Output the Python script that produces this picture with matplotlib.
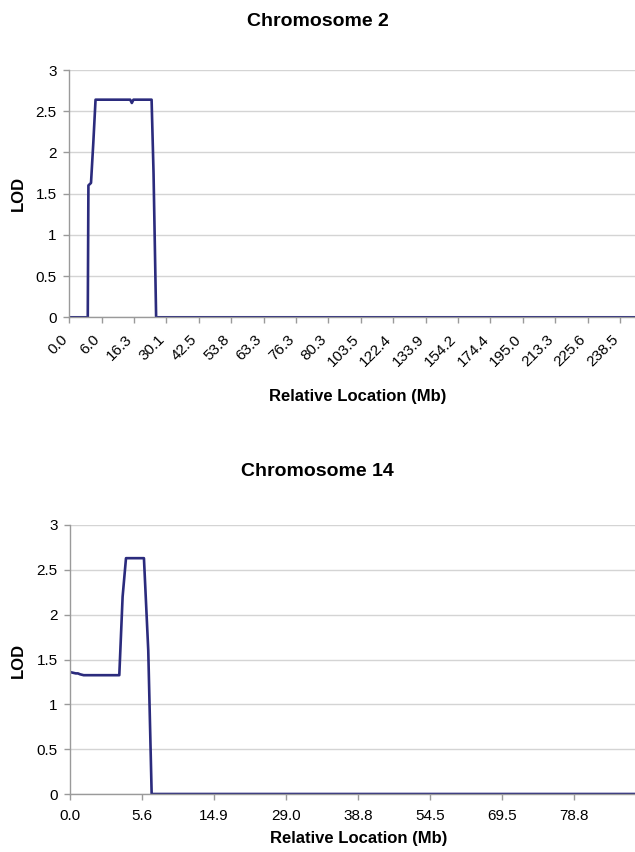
import numpy as np
import matplotlib.pyplot as plt
from matplotlib.transforms import ScaledTranslation

plt.rcParams['font.family'] = ['Liberation Sans', 'DejaVu Sans']

# x positions are in label-slot units along the category axis
chr2_labels = ["0.0", "6.0", "16.3", "30.1", "42.5", "53.8", "63.3", "76.3", "80.3",
               "103.5", "122.4", "133.9", "154.2", "174.4", "195.0", "213.3", "225.6", "238.5"]
chr2_x = [0.0, 0.57, 0.59, 0.67, 0.74, 0.81, 1.88, 1.93, 1.98, 2.54, 2.60, 2.68, 17.46]
chr2_lod = [0.0, 0.0, 1.60, 1.63, 2.11, 2.64, 2.64, 2.60, 2.64, 2.64, 1.75, 0.0, 0.0]

chr14_labels = ["0.0", "5.6", "14.9", "29.0", "38.8", "54.5", "69.5", "78.8"]
chr14_x = [0.0, 0.08, 0.11, 0.14, 0.19, 0.684, 0.73, 0.777, 1.026, 1.086, 1.133, 7.84]
chr14_lod = [1.36, 1.345, 1.345, 1.335, 1.325, 1.325, 2.20, 2.63, 2.63, 1.60, 0.0, 0.0]

line_col = "#2b2b7d"
grid_col = "#d4d4d4"
spine_col = "#9a9a9a"

fig = plt.figure(figsize=(6.35, 8.52), dpi=100)


def style_axes(ax, xmax):
    ax.set_xlim(0, xmax)
    ax.set_ylim(0, 3)
    ax.set_yticks(np.arange(0, 3.01, 0.5))
    ax.set_yticklabels(["0", "0.5", "1", "1.5", "2", "2.5", "3"])
    ax.yaxis.grid(True, color=grid_col, linewidth=1.0)
    ax.set_axisbelow(True)
    for s in ["top", "right"]:
        ax.spines[s].set_visible(False)
    for s in ["left", "bottom"]:
        ax.spines[s].set_color(spine_col)
        ax.spines[s].set_linewidth(1.0)
    ax.tick_params(axis="both", colors=spine_col, labelcolor="black", labelsize=11,
                   length=4, width=1.0, direction="out")
    ax.tick_params(axis="y", pad=5)


ax1 = fig.add_axes([69.3 / 635, 1 - 317.3 / 852, 565.7 / 635, 247.3 / 852])
ax1.plot(chr2_x, chr2_lod, color=line_col, linewidth=1.9, solid_joinstyle="round")
style_axes(ax1, 17.46)
ax1.set_xticks(range(len(chr2_labels)))
ax1.set_xticklabels(chr2_labels, rotation=45, ha="right", va="top", rotation_mode="anchor")
ax1.tick_params(axis="x", pad=6)
shift = ScaledTranslation(-9 / 100, -1 / 100, fig.dpi_scale_trans)
for lab in ax1.get_xticklabels():
    lab.set_transform(lab.get_transform() + shift)

ax2 = fig.add_axes([70 / 635, 1 - 794 / 852, 565 / 635, 269 / 852])
ax2.plot(chr14_x, chr14_lod, color=line_col, linewidth=1.9, solid_joinstyle="round")
style_axes(ax2, 7.84)
ax2.set_xticks(range(len(chr14_labels)))
ax2.set_xticklabels(chr14_labels)
ax2.tick_params(axis="x", pad=6.5)

fig.text(0.5, 1 - 21 / 852, "Chromosome 2", ha="center", va="center",
         fontsize=14, fontweight="bold")
fig.text(0.5, 1 - 471 / 852, "Chromosome 14", ha="center", va="center",
         fontsize=14, fontweight="bold")
fig.text(358 / 635, 1 - 396 / 852, "Relative Location (Mb)", ha="center", va="center",
         fontsize=12, fontweight="bold")
fig.text(359 / 635, 1 - 838 / 852, "Relative Location (Mb)", ha="center", va="center",
         fontsize=12, fontweight="bold")
fig.text(18.5 / 635, 1 - 193 / 852, "LOD", ha="center", va="center", rotation=90,
         fontsize=12, fontweight="bold")
fig.text(18.5 / 635, 1 - 660 / 852, "LOD", ha="center", va="center", rotation=90,
         fontsize=12, fontweight="bold")

fig.savefig("out.png", dpi=100)
